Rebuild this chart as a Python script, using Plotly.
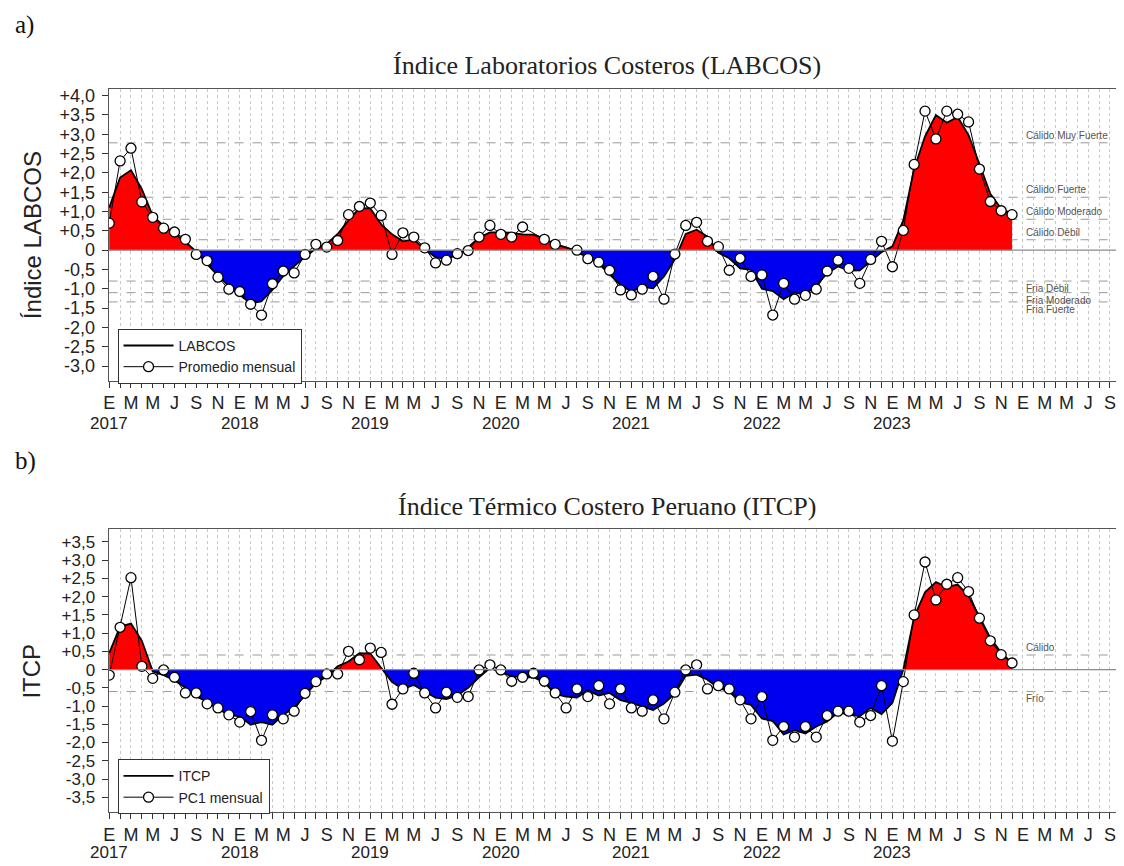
import plotly.graph_objects as go

# ---------------- DATA ----------------
START_YEAR = 2017
N_AXIS_MONTHS = 93  # Jan 2017 .. Sep 2024 on the axis
MONTH_LETTERS = ["E", "F", "M", "A", "M", "J", "J", "A", "S", "O", "N", "D"]
YEAR_LABELS = ["2017", "2018", "2019", "2020", "2021", "2022", "2023"]

# Panel a) LABCOS - monthly mean (Jan 2017 .. Dec 2023); None = no data
labcos_monthly = [
    0.70, 2.31, 2.64, 1.25, 0.85, 0.57, 0.47, 0.28, -0.11, -0.27, -0.70, -1.01,
    -1.07, -1.40, -1.68, -0.87, -0.54, -0.59, -0.11, 0.15, 0.08, 0.25, 0.92, 1.13,
    1.22, 0.90, -0.11, 0.45, 0.34, 0.06, -0.33, -0.26, -0.09, -0.01, 0.34, 0.64,
    0.41, 0.34, 0.60, None, 0.28, 0.15, None, 0.00, -0.22, -0.31, -0.52, -1.03,
    -1.16, -1.01, -0.68, -1.27, -0.10, 0.64, 0.72, 0.23, 0.09, -0.52, -0.21, -0.68,
    -0.64, -1.68, -0.86, -1.27, -1.17, -1.01, -0.54, -0.26, -0.47, -0.86, -0.24, 0.23,
    -0.43, 0.51, 2.22, 3.60, 2.88, 3.60, 3.52, 3.32, 2.10, 1.26, 1.02, 0.92,
]
# Panel a) LABCOS index (smoothed curve)
labcos_index = [
    1.10, 1.88, 2.07, 1.58, 0.89, 0.63, 0.44, 0.21, -0.03, -0.36, -0.66, -0.93,
    -1.16, -1.38, -1.32, -1.03, -0.67, -0.41, -0.18, 0.04, 0.16, 0.42, 0.77, 1.09,
    1.08, 0.67, 0.41, 0.23, 0.28, 0.02, -0.18, -0.23, -0.12, 0.08, 0.32, 0.46,
    0.46, 0.45, 0.41, 0.40, 0.30, 0.15, 0.07, -0.05, -0.18, -0.35, -0.62, -0.90,
    -1.07, -0.95, -0.99, -0.68, -0.24, 0.42, 0.53, 0.35, -0.07, -0.21, -0.47, -0.51,
    -1.00, -1.06, -1.27, -1.10, -1.15, -0.91, -0.60, -0.42, -0.53, -0.52, -0.29, -0.05,
    0.10, 0.77, 2.11, 2.95, 3.50, 3.30, 3.45, 2.98, 2.23, 1.46, 1.07, 0.95,
]

# Panel b) ITCP - PC1 monthly (Jan 2017 .. Dec 2023)
itcp_monthly = [
    -0.15, 1.16, 2.52, 0.09, -0.24, -0.01, -0.21, -0.64, -0.64, -0.94, -1.05, -1.24,
    -1.44, -1.15, -1.94, -1.24, -1.35, -1.14, -0.65, -0.33, -0.12, -0.12, 0.50, 0.27,
    0.59, 0.47, -0.95, -0.53, -0.10, -0.64, -1.05, -0.62, -0.76, -0.74, -0.01, 0.13,
    -0.01, -0.32, -0.21, -0.10, -0.32, -0.64, -1.05, -0.53, -0.74, -0.44, -0.94, -0.53,
    -1.05, -1.14, -0.83, -1.35, -0.62, -0.01, 0.13, -0.53, -0.44, -0.53, -0.83, -1.35,
    -0.74, -1.94, -1.56, -1.85, -1.56, -1.85, -1.26, -1.14, -1.14, -1.44, -1.26, -0.44,
    -1.96, -0.33, 1.50, 2.95, 1.91, 2.34, 2.52, 2.14, 1.41, 0.79, 0.41, 0.18,
]
# Panel b) ITCP index (smoothed curve)
itcp_index = [
    0.45, 1.18, 1.26, 0.79, -0.05, -0.15, -0.29, -0.50, -0.74, -0.88, -1.08, -1.24,
    -1.28, -1.51, -1.44, -1.51, -1.24, -1.05, -0.71, -0.37, -0.19, 0.09, 0.22, 0.45,
    0.44, 0.04, -0.34, -0.53, -0.42, -0.60, -0.77, -0.81, -0.71, -0.50, -0.21, 0.04,
    -0.07, -0.18, -0.21, -0.21, -0.35, -0.67, -0.74, -0.77, -0.57, -0.71, -0.64, -0.84,
    -0.91, -1.01, -1.11, -0.93, -0.66, -0.17, -0.14, -0.28, -0.50, -0.60, -0.90, -0.97,
    -1.34, -1.41, -1.78, -1.66, -1.75, -1.56, -1.42, -1.18, -1.24, -1.28, -1.05, -1.22,
    -0.91, 0.00, 1.45, 2.12, 2.40, 2.26, 2.33, 2.02, 1.45, 0.87, 0.46, 0.18,
]

# Thresholds (value, label)
labcos_thresholds = [
    (2.78, "Cálido Muy Fuerte"), (1.37, "Cálido Fuerte"), (0.80, "Cálido Moderado"),
    (0.27, "Cálido Débil"), (-0.80, "Fria Débil"), (-1.10, "Fria Moderado"),
    (-1.34, "Fria Fuerte"),
]
itcp_thresholds = [(0.4, "Cálido"), (-0.6, "Frío")]

YTICKS_A = [-3.0, -2.5, -2.0, -1.5, -1.0, -0.5, 0.0, 0.5, 1.0, 1.5, 2.0, 2.5, 3.0, 3.5, 4.0]
YTICKS_B = [-3.5, -3.0, -2.5, -2.0, -1.5, -1.0, -0.5, 0.0, 0.5, 1.0, 1.5, 2.0, 2.5, 3.0, 3.5]

# ---------------- HELPERS ----------------
# the page body has an 8px margin: figure coordinates = screen px - 8
OFF = 8
W, H = 1116, 858


def px_x(p):
    return (p - OFF) / W


def px_y(p):
    return 1 - (p - OFF) / H


def fmt_tick(v):
    if abs(v) < 1e-9:
        return "0"
    s = f"{abs(v):.1f}".replace(".", ",")
    return ("+" if v > 0 else "-") + s


def split_fill(xs, ys):
    ox, pos, neg = [], [], []
    for k in range(len(xs)):
        if k > 0:
            y0, y1 = ys[k - 1], ys[k]
            if y0 * y1 < 0:
                xc = xs[k - 1] + (xs[k] - xs[k - 1]) * y0 / (y0 - y1)
                ox.append(xc); pos.append(0.0); neg.append(0.0)
        ox.append(xs[k]); pos.append(max(ys[k], 0.0)); neg.append(min(ys[k], 0.0))
    return ox, pos, neg


tick_vals = list(range(N_AXIS_MONTHS))
tick_text = [MONTH_LETTERS[k % 12] if (k % 12) % 2 == 0 else "" for k in tick_vals]

fig = go.Figure()

RED = "#ff0000"
BLUE = "#0000f0"

panels = [
    dict(xa="x", ya="y", legend="legend", monthly=labcos_monthly, index=labcos_index,
         names=("LABCOS", "Promedio mensual"), thr=labcos_thresholds),
    dict(xa="x2", ya="y2", legend="legend2", monthly=itcp_monthly, index=itcp_index,
         names=("ITCP", "PC1 mensual"), thr=itcp_thresholds),
]

for p in panels:
    xs = list(range(len(p["index"])))
    fx, fpos, fneg = split_fill(xs, p["index"])
    fig.add_trace(go.Scatter(x=fx, y=fpos, mode="lines", fill="tozeroy", fillcolor=RED,
                             line=dict(width=0, color=RED), showlegend=False,
                             hoverinfo="skip", xaxis=p["xa"], yaxis=p["ya"]))
    fig.add_trace(go.Scatter(x=fx, y=fneg, mode="lines", fill="tozeroy", fillcolor=BLUE,
                             line=dict(width=0, color=BLUE), showlegend=False,
                             hoverinfo="skip", xaxis=p["xa"], yaxis=p["ya"]))
    fig.add_trace(go.Scatter(x=xs, y=p["index"], mode="lines", name=p["names"][0],
                             line=dict(color="black", width=1.8), legend=p["legend"],
                             xaxis=p["xa"], yaxis=p["ya"]))
    xm = list(range(len(p["monthly"])))
    fig.add_trace(go.Scatter(x=xm, y=p["monthly"], mode="lines+markers", name=p["names"][1],
                             connectgaps=True,
                             line=dict(color="black", width=1),
                             marker=dict(size=10, color="white",
                                         line=dict(color="black", width=1.3)),
                             legend=p["legend"], xaxis=p["xa"], yaxis=p["ya"]))

# axes
XDOM = [px_x(104), px_x(1117)]
XR = [-0.06, 92.65]
common_x = dict(range=XR, tickmode="array", tickvals=tick_vals, ticktext=tick_text,
                ticks="outside", ticklen=6, tickcolor="#333", showline=True,
                linecolor="#555", linewidth=1, mirror=True, showgrid=True,
                gridcolor="#c8c8c8", griddash="dot", gridwidth=1, zeroline=False,
                tickfont=dict(family="Liberation Sans", size=18, color="#222"),
                domain=XDOM)
common_y = dict(tickmode="array", ticks="outside", ticklen=6, tickcolor="#333",
                showline=True, linecolor="#555", linewidth=1, mirror="ticks",
                showgrid=False, zeroline=False, ticklabelstandoff=3)

fig.update_layout(
    xaxis=dict(**common_x, anchor="y"),
    xaxis2=dict(**common_x, anchor="y2"),
    yaxis=dict(**common_y, range=[-3.38, 4.18], tickvals=YTICKS_A,
               ticktext=[fmt_tick(v) for v in YTICKS_A],
               tickfont=dict(family="Liberation Sans", size=18, color="#222"),
               domain=[px_y(379), px_y(86)], anchor="x"),
    yaxis2=dict(**common_y, range=[-3.91, 3.85], tickvals=YTICKS_B,
                ticktext=[fmt_tick(v) for v in YTICKS_B],
                tickfont=dict(family="Liberation Sans", size=17, color="#222"),
                domain=[px_y(812), px_y(528)], anchor="x2"),
)

# threshold & zero lines, labels
shapes = []
annotations = []
for p in panels:
    yref = p["ya"]
    xdomref = p["xa"] + " domain"
    shapes.append(dict(type="line", xref=xdomref, yref=yref, x0=0, x1=1, y0=0, y1=0,
                       line=dict(color="#8a8a8a", width=1.2), layer="above"))
    for v, lab in p["thr"]:
        shapes.append(dict(type="line", xref=xdomref, yref=yref, x0=0, x1=1, y0=v, y1=v,
                           line=dict(color="#9a9a9a", width=1, dash="dash"), layer="below"))
        annotations.append(dict(x=84.1, y=v, xref=p["xa"], yref=yref, text=lab,
                                showarrow=False, xanchor="left",
                                yanchor="bottom" if v > 0 else "top", yshift=0,
                                font=dict(family="Liberation Sans", size=10, color="#555")))

# year labels (below the month letters)
for k, yl in enumerate(YEAR_LABELS):
    for xa, ytop in (("x", 411), ("x2", 842)):
        annotations.append(dict(x=12 * k, y=px_y(ytop), xref=xa, yref="paper", text=yl,
                                showarrow=False, xanchor="center", yanchor="top",
                                borderpad=0,
                                font=dict(family="Liberation Sans", size=17, color="#222")))

# titles and panel letters
annotations += [
    dict(x=px_x(605), y=px_y(63), xref="paper", yref="paper", showarrow=False,
         text="Índice Laboratorios Costeros (LABCOS)", xanchor="center", yanchor="middle",
         font=dict(family="Liberation Serif", size=26, color="#222")),
    dict(x=px_x(605), y=px_y(505), xref="paper", yref="paper", showarrow=False,
         text="Índice Térmico Costero Peruano (ITCP)", xanchor="center", yanchor="middle",
         font=dict(family="Liberation Serif", size=26, color="#222")),
    dict(x=px_x(8), y=px_y(22), xref="paper", yref="paper", showarrow=False,
         text="a)", xanchor="left", yanchor="middle",
         font=dict(family="Liberation Serif", size=25, color="#111")),
    dict(x=px_x(8), y=px_y(460), xref="paper", yref="paper", showarrow=False,
         text="b)", xanchor="left", yanchor="middle",
         font=dict(family="Liberation Serif", size=25, color="#111")),
    dict(x=px_x(27), y=px_y(233), xref="paper", yref="paper", showarrow=False,
         text="Índice LABCOS", textangle=-90, xanchor="center", yanchor="middle",
         font=dict(family="Liberation Sans", size=24, color="#222")),
    dict(x=px_x(27), y=px_y(670), xref="paper", yref="paper", showarrow=False,
         text="ITCP", textangle=-90, xanchor="center", yanchor="middle",
         font=dict(family="Liberation Sans", size=24, color="#222")),
]

legend_style = dict(bgcolor="white", bordercolor="#333", borderwidth=1, xanchor="left",
                    yanchor="top", font=dict(family="Liberation Sans", size=14, color="#222"),
                    tracegroupgap=0, itemwidth=50)

fig.update_layout(
    width=W, height=H, margin=dict(l=0, r=0, t=0, b=0),
    paper_bgcolor="white", plot_bgcolor="white",
    shapes=shapes, annotations=annotations,
    legend=dict(**legend_style, x=px_x(113), y=px_y(327)),
    legend2=dict(**legend_style, x=px_x(113), y=px_y(759)),
)

fig.write_html("out.html")
